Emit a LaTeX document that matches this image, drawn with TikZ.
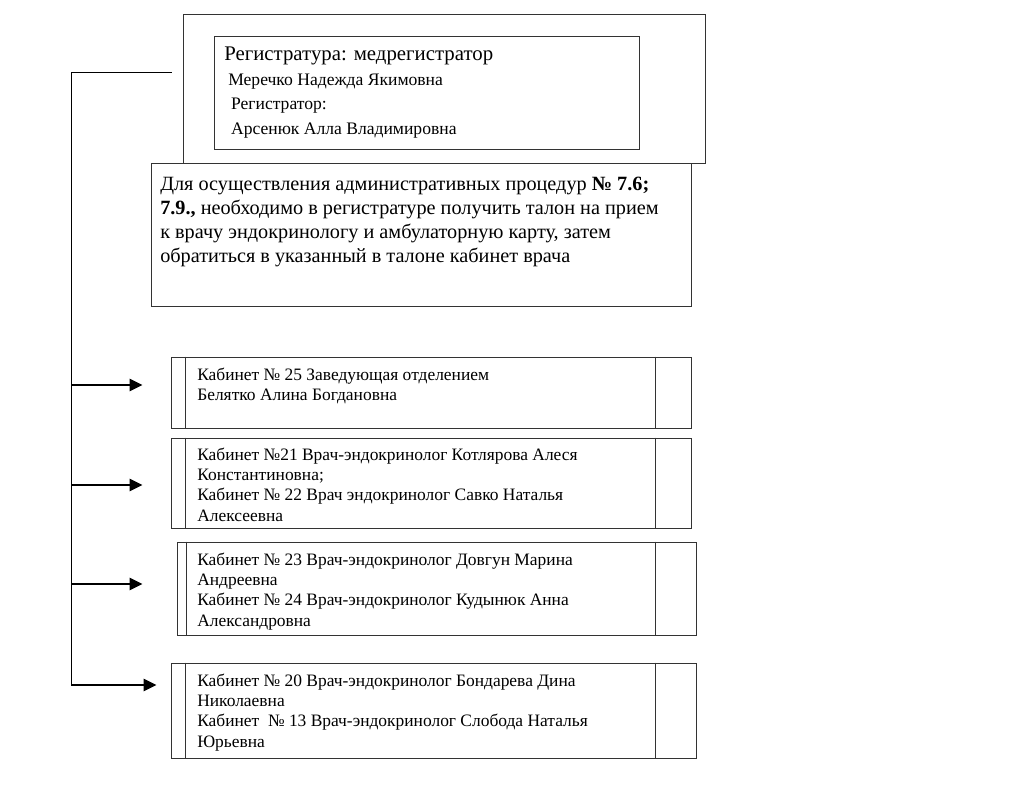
\documentclass[tikz,border=0pt]{standalone}
\usepackage{fontspec}
\setmainfont{Liberation Serif}
\usetikzlibrary{arrows.meta,fit}
\tikzset{
  box/.style={draw=black!80,line width=0.7pt,inner sep=0pt},
  cab/.style={box},
  txt/.style={anchor=north west,inner sep=0pt,align=left},
  bus/.style={line width=0.6pt},
  arr/.style={line width=1.5pt,-{Triangle[length=0.32cm,width=0.3cm]}}
}
\begin{document}
\begin{tikzpicture}[x=0.025cm,y=-0.025cm]
  \useasboundingbox (0,0) rectangle (1024,797);
  % registry
  \node[box,fit={(183,14) (705,163)}] (reg) {};
  \node[box,fit={(214,36) (639,149)}] (regin) {};
  \node[txt,font=\fontsize{14.8}{17}\selectfont] (regt) at (224,47) {Регистратура: медрегистратор};
  \node[txt,font=\fontsize{12.5}{17.2}\selectfont] (regn) at (228,74)
    {Меречко Надежда Якимовна\\
     \hspace{2pt}Регистратор:\\
     \hspace{2pt}Арсенюк Алла Владимировна};
  % procedure note
  \node[box,fit={(151,163) (691,306)}] (note) {};
  \node[txt,font=\fontsize{14.4}{17.1}\selectfont] (notet) at (160,177)
    {Для осуществления административных процедур \textbf{№ 7.6;}\\
     \textbf{7.9.,} необходимо в регистратуре получить талон на прием\\
     к врачу эндокринологу и амбулаторную карту, затем\\
     обратиться в указанный в талоне кабинет врача};
  % cabinets
  \node[cab,fit={(171,357) (691,428)}] (k25) {};
  \node[cab,fit={(171,438) (691,528)}] (k21) {};
  \node[cab,fit={(177,542) (696,635)}] (k23) {};
  \node[cab,fit={(171,663) (696,758)}] (k20) {};
  \foreach \n/\l in {k25/185,k21/185,k23/186,k20/185}{
    \draw[box] (\l,0 |- \n.north) -- (\l,0 |- \n.south);
    \draw[box] (655,0 |- \n.north) -- (655,0 |- \n.south);
  }
  \begin{scope}[font=\fontsize{12.4}{14.3}\selectfont]
    \node[txt] (k25t) at (197,368) {Кабинет № 25 Заведующая отделением\\
      Белятко Алина Богдановна};
    \node[txt] (k21t) at (197,448) {Кабинет №21 Врач-эндокринолог Котлярова Алеся\\
      Константиновна;\\
      Кабинет № 22 Врач эндокринолог Савко Наталья\\
      Алексеевна};
    \node[txt] (k23t) at (197,553) {Кабинет № 23 Врач-эндокринолог Довгун Марина\\
      Андреевна\\
      Кабинет № 24 Врач-эндокринолог Кудынюк Анна\\
      Александровна};
    \node[txt] (k20t) at (197,674) {Кабинет № 20 Врач-эндокринолог Бондарева Дина\\
      Николаевна\\
      Кабинет \ № 13 Врач-эндокринолог Слобода Наталья\\
      Юрьевна};
  \end{scope}
  % connector
  \coordinate (b0) at (71,72);
  \coordinate (b4) at (71,685);
  \draw[bus] ([xshift=-0.275cm]reg.west |- b0) -- (b0) -- (b4);
  \draw[arr] (71,385) -- ([xshift=-0.7cm]k25.west |- 0,385);
  \draw[arr] (71,485) -- ([xshift=-0.7cm]k21.west |- 0,485);
  \draw[arr] (71,584) -- ([xshift=-0.85cm]k23.west |- 0,584);
  \draw[arr] (b4) -- ([xshift=-0.35cm]k20.west |- b4);
\end{tikzpicture}
\end{document}
